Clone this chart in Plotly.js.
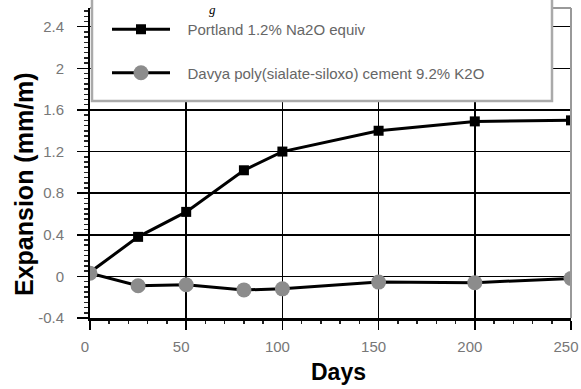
<!DOCTYPE html>
<html>
<head>
<meta charset="utf-8">
<script src="https://cdn.plot.ly/plotly-3.0.1.min.js"></script>
<style>html,body{margin:0;padding:0;background:#fff;}#chart{width:581px;height:389px;}</style>
</head>
<body>
<div id="chart"></div>
<script>
const days = [0, 25, 50, 80, 100, 150, 200, 250];
const portland = [0.04, 0.38, 0.62, 1.02, 1.20, 1.40, 1.49, 1.50];
const davya = [0.03, -0.09, -0.08, -0.13, -0.12, -0.055, -0.06, -0.02];
const seriesNames = ["Portland 1.2% Na2O equiv", "Davya poly(sialate-siloxo) cement 9.2% K2O"];
const xTicks = [0, 50, 100, 150, 200, 250];
const yTicks = [-0.4, 0, 0.4, 0.8, 1.2, 1.6, 2, 2.4];
const yTickText = ["-0.4", "0", "0.4", "0.8", "1.2", "1.6", "2", "2.4"];

const W = 581, H = 389, ML = 90, MR = 10, MT = 8, MB = 71;
const pw = W - ML - MR, ph = H - MT - MB;
const px = v => (v - ML) / pw;
const py = v => (H - MB - v) / ph;
const pad = "\u00a0\u00a0\u00a0";

const traces = [
  {x: days, y: portland, name: pad + seriesNames[0], mode: "lines+markers", legendgroup: "a",
   line: {color: "#000", width: 3}, marker: {symbol: "square", size: 10, color: "#000"}},
  {x: days, y: davya, name: pad + seriesNames[1], mode: "lines+markers", legendgroup: "b",
   line: {color: "#000", width: 3}, marker: {symbol: "circle", size: 15, color: "#8c8c8c"}}
];

const layout = {
  width: W, height: H,
  margin: {l: ML, r: MR, t: MT, b: MB},
  paper_bgcolor: "#fff", plot_bgcolor: "#fff",
  font: {family: "Liberation Sans, Arial, sans-serif", color: "#555"},
  showlegend: true,
  legend: {x: px(107), y: py(13), xanchor: "left", yanchor: "top",
    bgcolor: "rgba(0,0,0,0)", borderwidth: 0, tracegroupgap: 21, itemwidth: 58,
    font: {size: 15, color: "#666"}},
  xaxis: {range: [0, 250], tickvals: xTicks, ticktext: xTicks.map(String),
    showgrid: true, gridcolor: "#000", gridwidth: 1.5, zeroline: false,
    showline: true, linecolor: "#000", linewidth: 2.5,
    ticks: "outside", ticklen: 9, tickwidth: 1.5, tickcolor: "#000",
    minor: {dtick: 10, ticks: "outside", ticklen: 3, tickwidth: 1.5, tickcolor: "#222", showgrid: false},
    tickfont: {size: 15, color: "#777"}, ticklabelstandoff: 4, ticklabelshift: -5,
    ticklabeloverflow: "allow",
    fixedrange: true},
  yaxis: {range: [-0.4, 2.58], tickvals: yTicks, ticktext: yTickText,
    showgrid: true, gridcolor: "#000", gridwidth: 1.5, zeroline: false,
    showline: true, linecolor: "#000", linewidth: 2,
    ticks: "outside", ticklen: 11, tickwidth: 1.5, tickcolor: "#000",
    minor: {dtick: 0.05, ticks: "outside", ticklen: 4, tickwidth: 1.5, tickcolor: "#222", showgrid: false},
    tickfont: {size: 15, color: "#777"}, ticklabelstandoff: 10,
    fixedrange: true},
  shapes: [
    {type: "line", xref: "paper", yref: "paper", x0: 0, x1: 1, y0: 1, y1: 1, line: {color: "#999", width: 2}},
    {type: "line", xref: "paper", yref: "paper", x0: 1, x1: 1, y0: 0, y1: 1, line: {color: "#999", width: 2}},
    {type: "rect", xref: "paper", yref: "paper", layer: "above",
     x0: px(92), x1: px(552), y0: py(101), y1: py(-5),
     fillcolor: "#fff", line: {color: "#aaa", width: 2.5}}
  ],
  annotations: [
    {text: "<b>Expansion (mm/m)</b>", xref: "paper", yref: "paper", x: px(24), y: py(184),
     xanchor: "center", yanchor: "middle", textangle: -90, showarrow: false,
     font: {size: 25, color: "#000"}},
    {text: "<b>Days</b>", xref: "paper", yref: "paper", x: px(338), y: py(372),
     xanchor: "center", yanchor: "middle", showarrow: false,
     font: {size: 23, color: "#000"}},
    {text: "<i>g</i>", xref: "paper", yref: "paper", x: px(212), y: py(0),
     xanchor: "center", yanchor: "top", showarrow: false,
     font: {size: 13, family: "Liberation Serif, serif", color: "#000"}}
  ]
};

Plotly.newPlot("chart", traces, layout, {displayModeBar: false, staticPlot: true});
</script>
</body>
</html>
